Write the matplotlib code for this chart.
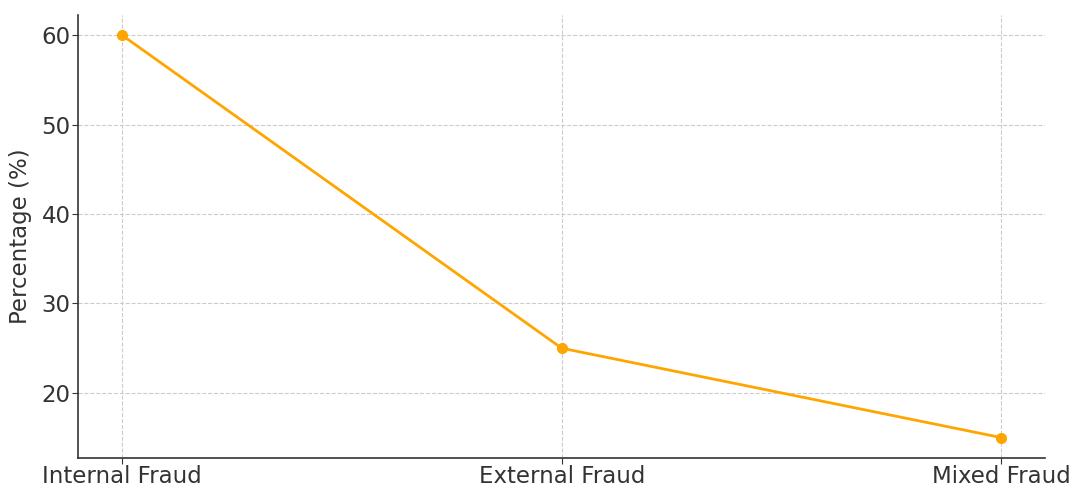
import matplotlib.pyplot as plt

fraud_types = ['Internal Fraud', 'External Fraud', 'Mixed Fraud']
percentages = [60, 25, 15]

fig, ax = plt.subplots(figsize=(10.71, 4.88), dpi=100)
fig.subplots_adjust(left=0.073, right=0.976, bottom=0.062, top=0.969)

ax.plot(fraud_types, percentages, color='#FFA500', lw=2, marker='o', ms=7)

ax.set_ylabel('Percentage (%)', fontsize=16.5, color='#333333', labelpad=7)
ax.tick_params(labelsize=16.5, colors='#333333', length=4, pad=1.5)
ax.set_yticks([20, 30, 40, 50, 60])
ax.grid(True, linestyle='--', color='#cccccc', lw=0.8)
ax.set_axisbelow(True)
for s in ['top', 'right']:
    ax.spines[s].set_visible(False)
for s in ['left', 'bottom']:
    ax.spines[s].set_color('#333333')
    ax.spines[s].set_linewidth(1.2)

fig.savefig('out.png', dpi=100)
